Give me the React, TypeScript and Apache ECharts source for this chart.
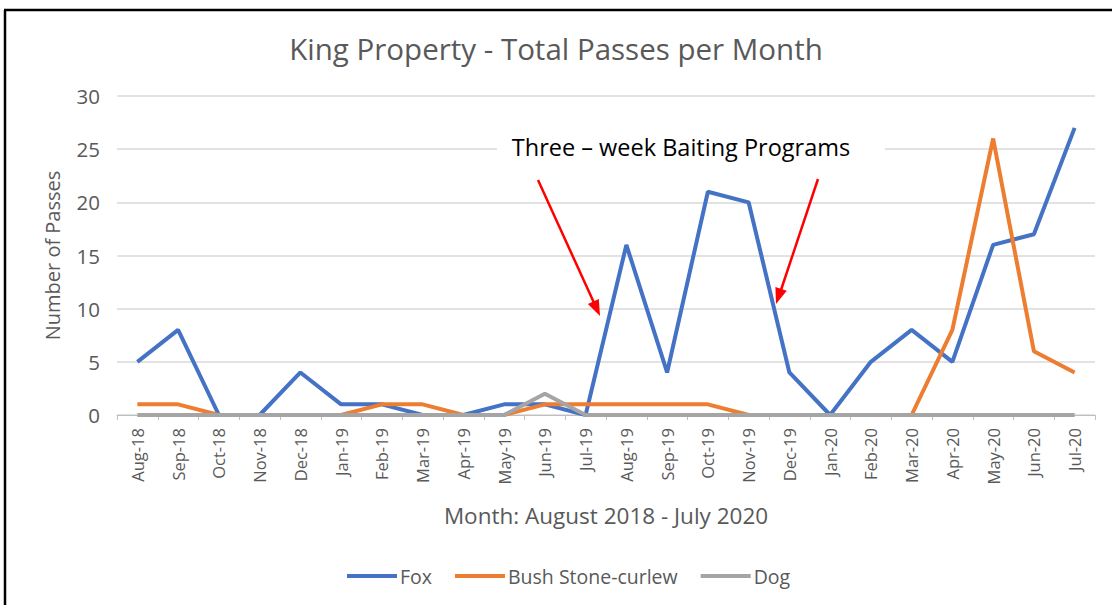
import React, { useEffect, useRef } from "react";
import * as echarts from "echarts";

const months = [
  "Aug-18", "Sep-18", "Oct-18", "Nov-18", "Dec-18", "Jan-19", "Feb-19", "Mar-19",
  "Apr-19", "May-19", "Jun-19", "Jul-19", "Aug-19", "Sep-19", "Oct-19", "Nov-19",
  "Dec-19", "Jan-20", "Feb-20", "Mar-20", "Apr-20", "May-20", "Jun-20", "Jul-20",
];
const fox = [5, 8, 0, 0, 4, 1, 1, 0, 0, 1, 1, 0, 16, 4, 21, 20, 4, 0, 5, 8, 5, 16, 17, 27];
const curlew = [1, 1, 0, 0, 0, 0, 1, 1, 0, 0, 1, 1, 1, 1, 1, 0, 0, 0, 0, 0, 8, 26, 6, 4];
const dog = [0, 0, 0, 0, 0, 0, 0, 0, 0, 0, 2, 0, 0, 0, 0, 0, 0, 0, 0, 0, 0, 0, 0, 0];
const yTicks = [0, 5, 10, 15, 20, 25, 30];

const seriesNames = ["Fox", "Bush Stone-curlew", "Dog"];
const seriesColors = ["#4472C4", "#ED7D31", "#A5A5A5"];

const FONT = "Open Sans";

const arrowHead = (tipX: number, tipY: number, fromX: number, fromY: number) => {
  const dx = tipX - fromX;
  const dy = tipY - fromY;
  const len = Math.sqrt(dx * dx + dy * dy);
  const ux = dx / len;
  const uy = dy / len;
  const hl = 16;
  const hw = 6;
  const bx = tipX - ux * hl;
  const by = tipY - uy * hl;
  return [
    [tipX, tipY],
    [bx - uy * hw, by + ux * hw],
    [bx + uy * hw, by - ux * hw],
  ];
};

export default function App() {
  const ref = useRef<HTMLDivElement>(null);
  useEffect(() => {
    document.body.style.margin = "0";
    const chart = echarts.init(ref.current!, null, { renderer: "svg" });
    const datasets = [fox, curlew, dog];
    const a1 = { x1: 538, y1: 180, x2: 600, y2: 316 };
    const a2 = { x1: 818, y1: 179, x2: 776, y2: 304 };
    chart.setOption({
      animation: false,
      backgroundColor: "#ffffff",
      title: {
        text: "King Property - Total Passes per Month",
        left: "center",
        top: 28,
        textStyle: {
          fontFamily: FONT,
          fontSize: 29.5,
          fontWeight: "normal",
          color: "#595959",
        },
      },
      legend: {
        top: 561,
        left: 342,
        itemWidth: 50,
        itemHeight: 4,
        itemGap: 23,
        icon: "rect",
        textStyle: { fontFamily: FONT, fontSize: 19.5, color: "#595959", padding: [0, 0, 0, -2] },
        data: seriesNames,
      },
      grid: { left: 117, right: 17, top: 96, bottom: 190 },
      xAxis: {
        type: "category",
        data: months,
        boundaryGap: true,
        name: "Month: August 2018 - July 2020",
        nameLocation: "middle",
        nameGap: 89,
        nameTextStyle: { fontFamily: FONT, fontSize: 22.5, color: "#595959" },
        axisLine: { lineStyle: { color: "#BFBFBF", width: 1 } },
        axisTick: { show: true, alignWithLabel: false, length: 5, lineStyle: { color: "#BFBFBF" } },
        axisLabel: {
          rotate: 90,
          margin: 13,
          fontFamily: FONT,
          fontSize: 16.5,
          color: "#595959",
          interval: 0,
        },
      },
      yAxis: {
        type: "value",
        min: yTicks[0],
        max: yTicks[yTicks.length - 1],
        interval: 5,
        name: "Number of Passes",
        nameLocation: "middle",
        nameGap: 55,
        nameTextStyle: { fontFamily: FONT, fontSize: 20, color: "#595959" },
        axisLine: { show: false },
        axisTick: { show: false },
        axisLabel: { margin: 17, fontFamily: FONT, fontSize: 20.5, color: "#595959" },
        splitLine: { lineStyle: { color: "#D9D9D9", width: 1.5 } },
      },
      series: seriesNames.map((name, i) => ({
        name,
        type: "line",
        data: datasets[i],
        symbol: "none",
        lineStyle: { color: seriesColors[i], width: 4 },
        itemStyle: { color: seriesColors[i] },
      })),
      graphic: [
        {
          type: "line",
          shape: { x1: 5, y1: 10, x2: 5, y2: 605 },
          style: { stroke: "#000000", lineWidth: 2.5 },
          z: 100,
        },
        {
          type: "line",
          shape: { x1: 4, y1: 10, x2: 1112, y2: 10 },
          style: { stroke: "#000000", lineWidth: 2.5 },
          z: 100,
        },
        {
          type: "rect",
          shape: { x: 497, y: 128, width: 388, height: 40 },
          style: { fill: "#ffffff" },
          z: 50,
        },
        {
          type: "text",
          x: 681,
          y: 147,
          style: {
            text: "Three – week Baiting Programs",
            fontFamily: FONT,
            fontSize: 23.5,
            fill: "#000000",
            align: "center",
            verticalAlign: "middle",
          },
          z: 51,
        },
        {
          type: "line",
          shape: { x1: a1.x1, y1: a1.y1, x2: a1.x2 - 5, y2: a1.y2 - 11 },
          style: { stroke: "#FF0000", lineWidth: 2.5 },
          z: 60,
        },
        {
          type: "polygon",
          shape: { points: arrowHead(a1.x2, a1.y2, a1.x1, a1.y1) },
          style: { fill: "#FF0000" },
          z: 60,
        },
        {
          type: "line",
          shape: { x1: a2.x1, y1: a2.y1, x2: a2.x2 + 4, y2: a2.y2 - 11 },
          style: { stroke: "#FF0000", lineWidth: 2.5 },
          z: 60,
        },
        {
          type: "polygon",
          shape: { points: arrowHead(a2.x2, a2.y2, a2.x1, a2.y1) },
          style: { fill: "#FF0000" },
          z: 60,
        },
      ],
    });
    return () => chart.dispose();
  }, []);
  return (
    <div
      ref={ref}
      style={{ position: "absolute", left: 0, top: 0, width: 1112, height: 605 }}
    />
  );
}
